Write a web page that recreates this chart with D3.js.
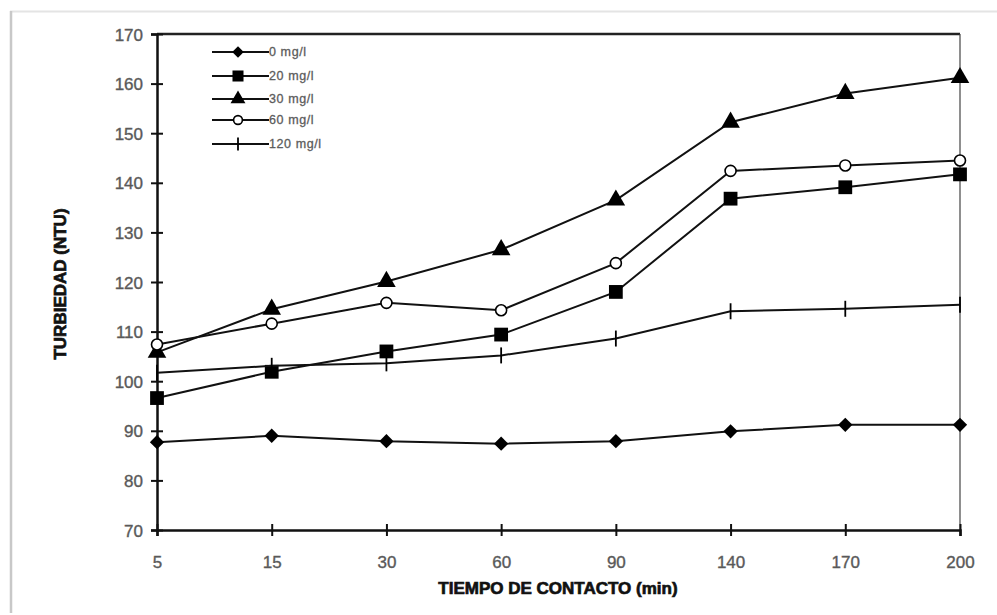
<!DOCTYPE html>
<html>
<head>
<meta charset="utf-8">
<script src="https://cdn.jsdelivr.net/npm/d3@7"></script>
<style>
  body { margin: 0; background: #fff; }
  text { font-family: Arial, "Liberation Sans", sans-serif; }
</style>
</head>
<body>
<div id="chart"></div>
<script>
// tiempo de contacto (min)
var times = ["5", "15", "30", "60", "90", "140", "170", "200"];
var yTicks = [70, 80, 90, 100, 110, 120, 130, 140, 150, 160, 170];

// turbiedad (NTU) per dose
var dose0 = [87.7, 89.0, 87.9, 87.4, 87.9, 89.9, 91.2, 91.2];
var dose20 = [96.6, 101.9, 106.0, 109.4, 118.0, 136.8, 139.1, 141.7];
var dose30 = [105.8, 114.5, 120.1, 126.5, 136.5, 152.2, 158.0, 161.2];
var dose60 = [107.4, 111.6, 115.8, 114.3, 123.8, 142.4, 143.5, 144.5];
var dose120 = [101.7, 103.1, 103.6, 105.2, 108.6, 114.1, 114.6, 115.4];

var seriesNames = ["0 mg/l", "20 mg/l", "30 mg/l", "60 mg/l", "120 mg/l"];
var seriesValues = [dose0, dose20, dose30, dose60, dose120];
var seriesMarks = ["diamond", "square", "triangle", "circle", "plus"];

var width = 997, height = 615;
var m = { left: 157, right: 37, top: 34, bottom: 85 };

var svg = d3.select("#chart").append("svg")
  .attr("width", width)
  .attr("height", height);

// light frame around the figure
svg.append("line")
  .attr("x1", 10).attr("x2", 997).attr("y1", 11.5).attr("y2", 11.5)
  .attr("stroke", "#e4e4e4").attr("stroke-width", 2);
svg.append("line")
  .attr("x1", 11).attr("x2", 11).attr("y1", 11).attr("y2", 613)
  .attr("stroke", "#c8c8c8").attr("stroke-width", 2.5);

var x = d3.scalePoint().domain(times).range([m.left, width - m.right]);
var y = d3.scaleLinear().domain([70, 170]).range([height - m.bottom, m.top]);

// top and right borders of plot
svg.append("line")
  .attr("x1", m.left).attr("x2", width - m.right)
  .attr("y1", y(170)).attr("y2", y(170))
  .attr("stroke", "#222").attr("stroke-width", 2.5);
svg.append("line")
  .attr("x1", width - m.right).attr("x2", width - m.right)
  .attr("y1", y(170)).attr("y2", y(70))
  .attr("stroke", "#444").attr("stroke-width", 1.2);

// axes
var yAxis = svg.append("g")
  .attr("transform", "translate(" + m.left + ",0)")
  .call(d3.axisLeft(y).tickValues(yTicks).tickSize(6).tickPadding(8));
var xAxis = svg.append("g")
  .attr("transform", "translate(0," + y(70) + ")")
  .call(d3.axisBottom(x).tickSize(6).tickPadding(20));

[yAxis, xAxis].forEach(function(a) {
  a.select(".domain").attr("stroke", "#111").attr("stroke-width", 2.5);
  a.selectAll(".tick line").attr("stroke", "#111").attr("stroke-width", 2);
  a.selectAll(".tick text")
    .attr("fill", "#555")
    .attr("stroke", "#666")
    .attr("stroke-width", 0.4)
    .style("font-size", "17px");
});
// ticks cross the axis
yAxis.selectAll(".tick line").attr("x1", 6);
xAxis.selectAll(".tick line").attr("y1", -6);
yAxis.selectAll(".tick text").attr("dy", "0.36em");

// axis titles
svg.append("text")
  .attr("transform", "translate(66," + (y(120) + 2) + ") rotate(-90)")
  .attr("text-anchor", "middle")
  .style("font-size", "17px")
  .style("font-weight", "bold")
  .attr("fill", "#111")
  .attr("stroke", "#111")
  .attr("stroke-width", 0.7)
  .text("TURBIEDAD (NTU)");
svg.append("text")
  .attr("x", 558).attr("y", 594)
  .attr("text-anchor", "middle")
  .style("font-size", "17px")
  .style("font-weight", "bold")
  .attr("fill", "#111")
  .attr("stroke", "#111")
  .attr("stroke-width", 0.7)
  .text("TIEMPO DE CONTACTO (min)");

function drawMark(g, type, cx, cy, k) {
  k = k || 1;
  if (type === "diamond") {
    g.append("path").attr("d", d3.symbol(d3.symbolDiamond2, 130 * k * k)())
      .attr("transform", "translate(" + cx + "," + cy + ")").attr("fill", "#000");
  } else if (type === "square") {
    g.append("path").attr("d", d3.symbol(d3.symbolSquare, 190 * k * k)())
      .attr("transform", "translate(" + cx + "," + cy + ")").attr("fill", "#000");
  } else if (type === "triangle") {
    g.append("path").attr("d", d3.symbol(d3.symbolTriangle, 150 * k * k)())
      .attr("transform", "translate(" + cx + "," + cy + ")").attr("fill", "#000");
  } else if (type === "circle") {
    g.append("circle").attr("cx", cx).attr("cy", cy).attr("r", 5.5 * k)
      .attr("fill", "#fff").attr("stroke", "#000").attr("stroke-width", 1.6);
  } else {
    g.append("line").attr("x1", cx).attr("x2", cx)
      .attr("y1", cy - 8 * k).attr("y2", cy + 8 * k)
      .attr("stroke", "#000").attr("stroke-width", 1.8);
  }
}

var line = d3.line()
  .x(function(d, i) { return x(times[i]); })
  .y(function(d) { return y(d); });

seriesValues.forEach(function(vals, s) {
  var g = svg.append("g");
  g.append("path")
    .datum(vals)
    .attr("d", line)
    .attr("fill", "none")
    .attr("stroke", "#111")
    .attr("stroke-width", 2);
  vals.forEach(function(v, i) {
    drawMark(g, seriesMarks[s], x(times[i]), y(v));
  });
});

// legend
var legendY = [52, 76, 99, 120, 144];
var leg = svg.append("g");
seriesNames.forEach(function(name, i) {
  var ly = legendY[i];
  leg.append("line")
    .attr("x1", 212).attr("x2", 269)
    .attr("y1", ly).attr("y2", ly)
    .attr("stroke", "#111").attr("stroke-width", 2);
  drawMark(leg, seriesMarks[i], 238, ly, 0.8);
  leg.append("text")
    .attr("x", 269).attr("y", ly)
    .attr("dy", "0.35em")
    .attr("fill", "#555")
    .attr("stroke", "#666")
    .attr("stroke-width", 0.3)
    .style("font-size", "12.5px")
    .style("letter-spacing", "0.6px")
    .text(name);
});
</script>
</body>
</html>
